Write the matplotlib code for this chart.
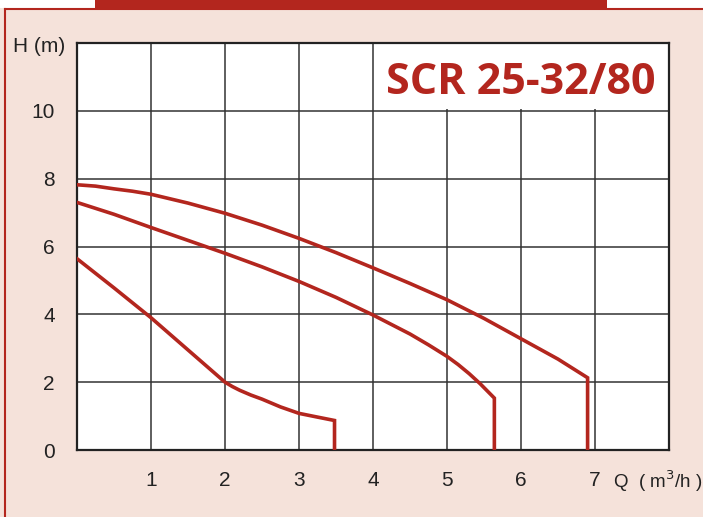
import matplotlib.pyplot as plt
from matplotlib.patches import Rectangle
from matplotlib.lines import Line2D

plt.rcParams['font.family'] = ['Liberation Sans', 'DejaVu Sans']

# pump curves (Q in m3/h, H in m)
q_top = [0, 0.25, 0.5, 0.75, 1, 1.5, 2, 2.5, 3, 3.5, 4, 4.5, 5, 5.5, 6, 6.5, 6.9, 6.9]
h_top = [7.82, 7.78, 7.7, 7.63, 7.54, 7.28, 6.98, 6.63, 6.24, 5.82, 5.37, 4.91, 4.43, 3.88, 3.28, 2.68, 2.13, 0]

q_mid = [0, 0.5, 1, 1.5, 2, 2.5, 3, 3.5, 4, 4.5, 4.75, 5, 5.15, 5.3, 5.45, 5.64, 5.64]
h_mid = [7.3, 6.95, 6.56, 6.18, 5.8, 5.4, 4.97, 4.5, 3.98, 3.42, 3.1, 2.76, 2.52, 2.25, 1.95, 1.53, 0]

q_low = [0, 0.5, 1, 1.5, 2, 2.1, 2.2, 2.35, 2.5, 2.75, 3, 3.25, 3.48, 3.48]
h_low = [5.64, 4.78, 3.9, 2.95, 2.0, 1.87, 1.76, 1.62, 1.5, 1.27, 1.08, 0.97, 0.87, 0]

x_ticks = [1, 2, 3, 4, 5, 6, 7]
y_ticks = [0, 2, 4, 6, 8, 10]
title = "SCR 25-32/80"

red = "#b3261e"
pink = "#f5e2da"

fig = plt.figure(figsize=(7.03, 5.17), dpi=100, facecolor=pink)

# header strip and red frame lines
fig.patches.append(Rectangle((0, 1 - 8/517), 1, 8/517, transform=fig.transFigure,
                             facecolor="white", edgecolor="none", zorder=0))
fig.patches.append(Rectangle((95/703, 1 - 8/517), 512/703, 8/517, transform=fig.transFigure,
                             facecolor=red, edgecolor="none", zorder=1))
fig.lines.append(Line2D([5/703, 1], [1 - 9/517, 1 - 9/517], transform=fig.transFigure,
                        color=red, lw=1.5))
fig.lines.append(Line2D([5/703, 5/703], [0, 1 - 9/517], transform=fig.transFigure,
                        color=red, lw=1.5))

ax = fig.add_axes([77/703, 1 - 450/517, 592/703, 407/517])
ax.set_facecolor("white")
ax.set_xlim(0, 8)
ax.set_ylim(0, 12)
ax.set_xticks(range(0, 9))
ax.set_yticks(range(0, 13, 2))
ax.set_xticklabels([str(v) if v in x_ticks else "" for v in range(0, 9)])
ax.set_yticklabels([str(v) if v in y_ticks else "" for v in range(0, 13, 2)])
ax.tick_params(length=0, labelsize=15, colors="#222222")
ax.tick_params(axis="x", pad=15)
ax.tick_params(axis="y", pad=16)
ax.set_axisbelow(True)
ax.grid(True, color="#333333", lw=1.1)
for s in ax.spines.values():
    s.set_color("#222222")
    s.set_linewidth(1.6)

# blank box behind the model name
ax.add_patch(Rectangle((4.02, 10.05), 3.98, 1.95, facecolor="white", edgecolor="none", zorder=1))

for q, h in [(q_top, h_top), (q_mid, h_mid), (q_low, h_low)]:
    ax.plot(q, h, color=red, lw=2.6, solid_joinstyle="miter", zorder=3)

ax.text(6.0, 10.85, title, color=red, fontsize=31, fontweight="bold",
        family=["Open Sans", "DejaVu Sans"], ha="center", va="center", zorder=4)

fig.text(13/703, 1 - 47/517, "H (m)", fontsize=15, color="#222222", va="center", ha="left")
fig.text(613/703, 1 - 481/517, r"Q  ( m$^3$/h )", fontsize=13.5, color="#222222",
         va="center", ha="left")

fig.savefig("out.png", dpi=100, facecolor=pink)
